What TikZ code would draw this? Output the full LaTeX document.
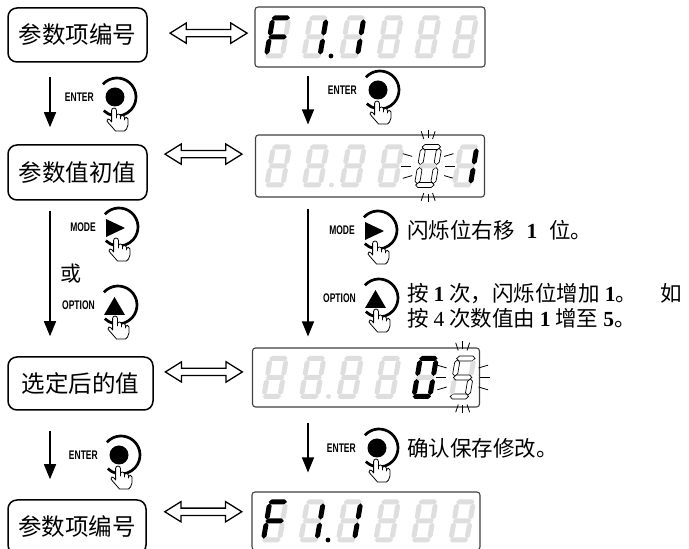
\documentclass[tikz,border=0pt]{standalone}
\usepackage{fontspec}
\setmainfont{Liberation Serif}
\newfontfamily\cjk{Noto Sans CJK SC}
\newfontfamily\keyfont[FakeStretch=0.68]{Liberation Sans}
\usetikzlibrary{arrows.meta,shapes.arrows}
\definecolor{segray}{gray}{0.87}
\tikzset{
  stage/.style={draw,rounded corners=9pt,line width=1.5pt,inner sep=0pt,
    font=\cjk\fontsize{23.5}{28}\selectfont},
  panel/.style={draw=black!75,fill=white,rounded corners=3pt,line width=1.1pt,inner sep=0pt},
  segon/.style={fill=black},
  segoff/.style={fill=segray},
  segfl/.style={fill=white,draw=black,line width=0.7pt},
  swap/.style={double arrow,draw,fill=white,line width=1.3pt,inner xsep=0pt,inner ysep=3pt,
    minimum height=77pt,double arrow head extend=6.5pt,double arrow tip angle=64},
  flow/.style={line width=1.4pt,-{Triangle[length=15pt,width=12pt]}},
  keylabel/.style={anchor=east,inner sep=0pt,font=\keyfont\bfseries\fontsize{12.5}{13}\selectfont},
  handline/.style={fill=white,draw=black,line width=0.8pt,line join=round},
  note/.style={anchor=west,inner sep=0pt,align=left,font=\cjk\fontsize{21.5}{25}\selectfont}
}
% seven segment pieces
\newcommand\hseg[2]{\path[seg#2] (1.3,#1) -- (3.8,#1+2.5) -- (17.2,#1+2.5) -- (19.7,#1) -- (17.2,#1-2.5) -- (3.8,#1-2.5) -- cycle;}
\newcommand\vseg[4]{\path[seg#4] (#1,#2) -- (#1+2.5,#2+2.5) -- (#1+2.5,#3-2.5) -- (#1,#3) -- (#1-2.5,#3-2.5) -- (#1-2.5,#2+2.5) -- cycle;}
% digit: position, then segments a b c d e f g
\newcommand\segdigit[8]{%
  \begin{scope}[shift={#1},xslant=0.17]
    \hseg{40.5}{#2}\vseg{18.5}{22.8}{39.2}{#3}\vseg{18.5}{3.8}{20.2}{#4}
    \hseg{2.5}{#5}\vseg{2.5}{3.8}{20.2}{#6}\vseg{2.5}{22.8}{39.2}{#7}
    \hseg{21.5}{#8}
  \end{scope}}
\newcommand\blankdigit[1]{\segdigit{#1}{off}{off}{off}{off}{off}{off}{off}}
\newcommand\flashrays[1]{%
  \begin{scope}[shift={#1}]
    \foreach \a in {75,90,105,160,180,200,255,270,285,-20,0,20}
      \draw[line width=0.8pt] ({17*cos(\a)},{28*sin(\a)}) -- ({27*cos(\a)},{36*sin(\a)});
  \end{scope}}
% F1.1888
\newcommand\fonepanel{%
  \segdigit{(9,-21.5)}{on}{off}{off}{off}{on}{on}{on}
  \segdigit{(46.5,-21.5)}{off}{on}{on}{off}{off}{off}{off}
  \fill (76.5,-19) circle[radius=2.4];
  \segdigit{(84,-21.5)}{off}{on}{on}{off}{off}{off}{off}
  \foreach \i in {3,4,5} \blankdigit{(9+37.5*\i,-21.5)};}
% pointing hand, finger tip at origin
\newcommand\fingerhand{%
  \draw[handline] (-2.4,-12) -- (-2.4,-2.4) arc[start angle=180,end angle=0,radius=2.4]
    -- (2.4,-10) -- (2.4,-8) arc[start angle=180,end angle=0,radius=2]
    -- (6.4,-11) -- (6.4,-9.5) arc[start angle=180,end angle=0,radius=2]
    -- (10.4,-12) -- (10.4,-11) arc[start angle=180,end angle=0,radius=1.8]
    -- (14,-17) -- (12.5,-21) -- (10.5,-23) -- (1.5,-23)
    -- (-1.5,-19.5) -- (-5.5,-15) -- (-7,-13)
    arc[start angle=200,end angle=20,radius=1.6] -- (-2.4,-14) -- cycle;}
% key: name, centre, label, symbol
\newcommand\keybtn[4]{%
  \begin{scope}[shift={#2}]
    \node[keylabel] (#1) at (-23,0) {#3};
    \draw[line width=2.7pt] (138:19) arc[start angle=138,end angle=-134,radius=19];
    #4
    \begin{scope}[shift={(-3,-11)}]\fingerhand\end{scope}
  \end{scope}}
\newcommand\symenter{\fill (-2,0) circle[radius=9.5];}
\newcommand\symmode{\fill (-13,8) -- (6,-1) -- (-13,-10) -- cycle;}
\newcommand\symoption{\fill (-14,-10) -- (7,-10) -- (-3.5,8) -- cycle;}
\newcommand\num[1]{{\rmfamily\bfseries #1}}

\begin{document}
\begin{tikzpicture}[x=1pt,y=1pt]
\useasboundingbox (0,0) rectangle (689,549);
% left column
\node[stage,minimum width=139pt,minimum height=54pt] (box1) at (77.5,514) {参数项编号};
\node[stage,minimum width=139pt,minimum height=55pt] (box2) at (77.5,376.5) {参数值初值};
\node[stage,minimum width=145pt,minimum height=53pt] (box3) at (80.5,165.5) {选定后的值};
\node[stage,minimum width=138pt,minimum height=54pt] (box4) at (77,22) {参数项编号};
% right column
\node[panel,minimum width=230pt,minimum height=60pt] (disp1) at (370,512) {};
\node[panel,minimum width=229pt,minimum height=62pt] (disp2) at (370,383) {};
\node[panel,minimum width=227pt,minimum height=59pt] (disp3) at (366,171.5) {};
\node[panel,minimum width=228pt,minimum height=58pt] (disp4) at (366,28) {};

\begin{scope}[shift={(disp1.west)}]
  \fonepanel
\end{scope}
\begin{scope}[shift={(disp2.west)}]
  \foreach \i in {0,...,3} \blankdigit{(9+37.5*\i,-21.5)};
  \fill[segray] (76.5,-19) circle[radius=2.4];
  \segdigit{(159,-21.5)}{fl}{fl}{fl}{fl}{fl}{fl}{off}
  \flashrays{(173.2,0)}
  \segdigit{(196.5,-21.5)}{off}{on}{on}{off}{off}{off}{off}
\end{scope}
\begin{scope}[shift={(disp3.west)}]
  \foreach \i in {0,...,3} \blankdigit{(9+37.5*\i,-21.5)};
  \fill[segray] (76.5,-19) circle[radius=2.4];
  \segdigit{(159,-21.5)}{on}{on}{on}{on}{on}{on}{off}
  \segdigit{(196.5,-21.5)}{fl}{off}{fl}{fl}{off}{fl}{fl}
  \flashrays{(210.7,0)}
\end{scope}
\begin{scope}[shift={(disp4.west)}]
  \fonepanel
\end{scope}

% box <-> display
\path (box1.east) -- (disp1.west) node[swap,pos=.57,yshift=3pt] (swap1) {};
\path (box2.east) -- (disp2.west) node[swap,pos=.52,yshift=15pt] (swap2) {};
\path (box3.east) -- (disp3.west) node[swap,pos=.51,yshift=8.5pt] (swap3) {};
\path (box4.east) -- (disp4.west) node[swap,pos=.54,yshift=12pt] (swap4) {};

% steps
\coordinate (lx) at (50,0);
\coordinate (rx) at (308,0);
\draw[flow,shorten <=14pt,shorten >=17pt] (box1.south -| lx) -- (box2.north -| lx);
\draw[flow,shorten <=10pt,shorten >=20pt] (box2.south -| lx) -- (box3.north -| lx);
\draw[flow,shorten <=20pt,shorten >=20pt] (box3.south -| lx) -- (box4.north -| lx);
\draw[flow,shorten <=8pt,shorten >=10pt] (disp1.south -| rx) -- (disp2.north -| rx);
\draw[flow,shorten <=11pt,shorten >=11pt] (disp2.south -| rx) -- (disp3.north -| rx);
\draw[flow,shorten <=15pt,shorten >=19pt] (disp3.south -| rx) -- (disp4.north -| rx);

% keys
\keybtn{enterA}{(117,452)}{ENTER}{\symenter}
\keybtn{modeA}{(119,322)}{MODE}{\symmode}
\keybtn{optionA}{(118,244)}{OPTION}{\symoption}
\keybtn{enterB}{(121,94)}{ENTER}{\symenter}
\keybtn{enterC}{(380,459)}{ENTER}{\symenter}
\keybtn{modeC}{(378,319)}{MODE}{\symmode}
\keybtn{optionC}{(379,251)}{OPTION}{\symoption}
\keybtn{enterD}{(379,101)}{ENTER}{\symenter}

\node[font=\cjk\fontsize{21}{24}\selectfont,inner sep=0pt] (either) at (71,275) {或};
\node[note] (shift) at (407,319) {\spaceskip=12pt\relax 闪烁位右移 \num{1} 位。};
\node[note] (count) at (407,243.5) {\spaceskip=5pt\relax
  \makebox[275pt][s]{按 \num{1} 次，闪烁位增加 \num{1}。\hfill 如}\\
  按 {\rmfamily 4} 次数值由 \num{1} 增至 \num{5}。};
\node[note] (save) at (407,101) {确认保存修改。};
\end{tikzpicture}
\end{document}
